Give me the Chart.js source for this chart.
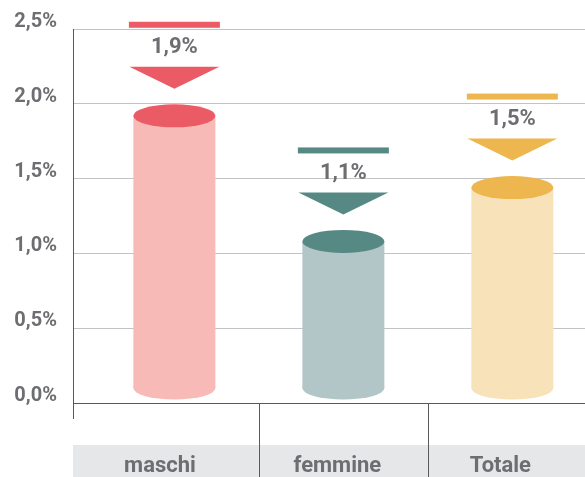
<!DOCTYPE html>
<html>
<head>
<meta charset="utf-8">
<script src="https://cdn.jsdelivr.net/npm/chart.js@4/dist/chart.umd.min.js"></script>
<style>
  html, body { margin: 0; padding: 0; background: #fff; }
  #wrap { width: 585px; height: 477px; }
</style>
</head>
<body>
<div id="wrap"><canvas id="c" width="585" height="477"></canvas></div>
<script>
// ---- data ----
const categories = ["maschi", "femmine", "Totale"];
const values = [1.92, 1.08, 1.44];
const valueLabels = ["1,9%", "1,1%", "1,5%"];
const yTicks = [0, 0.5, 1.0, 1.5, 2.0, 2.5];
const bodyColors = ["#f8bab6", "#b3c6c7", "#f8e2b9"];
const topColors = ["#ea5b65", "#568984", "#edb64e"];

const TEXT = "#6d6e71";
const AXIS = "#58595b";
const GRID = "#c2c3c5";

const cylinderPlugin = {
  id: "cylinders",
  beforeDatasetsDraw(chart) {
    const ctx = chart.ctx;
    const xs = chart.scales.x;
    const ca = chart.chartArea;
    const bottomY = chart.height;
    const boxTop = ca.bottom + 42;
    // category boxes
    const edges = [ca.left];
    for (let i = 0; i < categories.length - 1; i++) edges.push(xs.getPixelForValue(i + 0.5));
    edges.push(ca.right);
    ctx.save();
    ctx.fillStyle = "#e6e7e8";
    for (let i = 0; i < categories.length; i++) {
      const l = edges[i] + (i === 0 ? 0 : 1);
      const r = edges[i + 1];
      ctx.fillRect(l, boxTop, r - l, bottomY - boxTop);
    }
    // separators
    ctx.strokeStyle = AXIS;
    ctx.lineWidth = 1;
    for (let i = 1; i < edges.length - 1; i++) {
      const x = Math.round(edges[i]) + 0.5;
      ctx.beginPath();
      ctx.moveTo(x, ca.bottom);
      ctx.lineTo(x, bottomY);
      ctx.stroke();
    }
    // y-axis extension below zero
    const ax = Math.round(ca.left) + 0.5;
    ctx.beginPath();
    ctx.moveTo(ax, ca.bottom);
    ctx.lineTo(ax, ca.bottom + 16);
    ctx.stroke();
    // category labels
    ctx.fillStyle = TEXT;
    ctx.font = "bold 22px Roboto";
    ctx.textAlign = "center";
    ctx.textBaseline = "alphabetic";
    for (let i = 0; i < categories.length; i++) {
      const cx = (edges[i] + edges[i + 1]) / 2 - 6;
      ctx.fillText(categories[i], cx, boxTop + 27);
    }
    ctx.restore();
  },
  afterDatasetsDraw(chart) {
    const ctx = chart.ctx;
    const meta = chart.getDatasetMeta(0);
    ctx.save();
    meta.data.forEach((el, i) => {
      const x = el.x, yTop = el.y, base = el.base, w = el.width;
      const rx = w / 2, ry = 11.5;
      const botCy = base - 3 - ry;
      // body
      ctx.fillStyle = bodyColors[i];
      ctx.fillRect(x - rx, yTop, w, botCy - yTop);
      ctx.beginPath();
      ctx.ellipse(x, botCy, rx, ry, 0, 0, Math.PI * 2);
      ctx.fill();
      // top
      ctx.fillStyle = topColors[i];
      ctx.beginPath();
      ctx.ellipse(x, yTop, rx, ry, 0, 0, Math.PI * 2);
      ctx.fill();
      // triangle marker
      ctx.beginPath();
      ctx.moveTo(x - 45, yTop - 49);
      ctx.lineTo(x + 45, yTop - 49);
      ctx.lineTo(x, yTop - 27);
      ctx.closePath();
      ctx.fill();
      // top line
      ctx.fillRect(x - 45.5, yTop - 94, 91, 6);
      // value label
      ctx.fillStyle = TEXT;
      ctx.font = "bold 22px Roboto";
      ctx.textAlign = "center";
      ctx.textBaseline = "middle";
      ctx.fillText(valueLabels[i], x, yTop - 68);
    });
    ctx.restore();
  }
};

Chart.defaults.font.family = "Roboto";

new Chart(document.getElementById("c"), {
  type: "bar",
  data: {
    datasets: [{
      data: values.map((v, i) => ({ x: i, y: v })),
      backgroundColor: "rgba(0,0,0,0)",
      borderWidth: 0,
      barThickness: 82
    }]
  },
  options: {
    responsive: false,
    animation: false,
    layout: { padding: { top: 29, bottom: 74, left: 0, right: 0 } },
    plugins: { legend: { display: false }, tooltip: { enabled: false } },
    scales: {
      x: {
        type: "linear",
        display: false,
        offset: false,
        min: -0.6,
        max: 2.43
      },
      y: {
        min: 0,
        max: 2.5,
        afterBuildTicks: s => { s.ticks = yTicks.map(v => ({ value: v })); },
        afterFit: s => { s.width = 73; },
        border: { display: true, color: AXIS, width: 1 },
        grid: {
          drawTicks: false,
          color: c => (c.tick && c.tick.value === 0 ? AXIS : GRID),
          lineWidth: 1
        },
        ticks: {
          padding: 16,
          labelOffset: -7,
          color: TEXT,
          font: { size: 20, weight: "bold", family: "Roboto" },
          callback: v => v.toFixed(1).replace(".", ",") + "%"
        }
      }
    }
  },
  plugins: [cylinderPlugin]
});
</script>
</body>
</html>
